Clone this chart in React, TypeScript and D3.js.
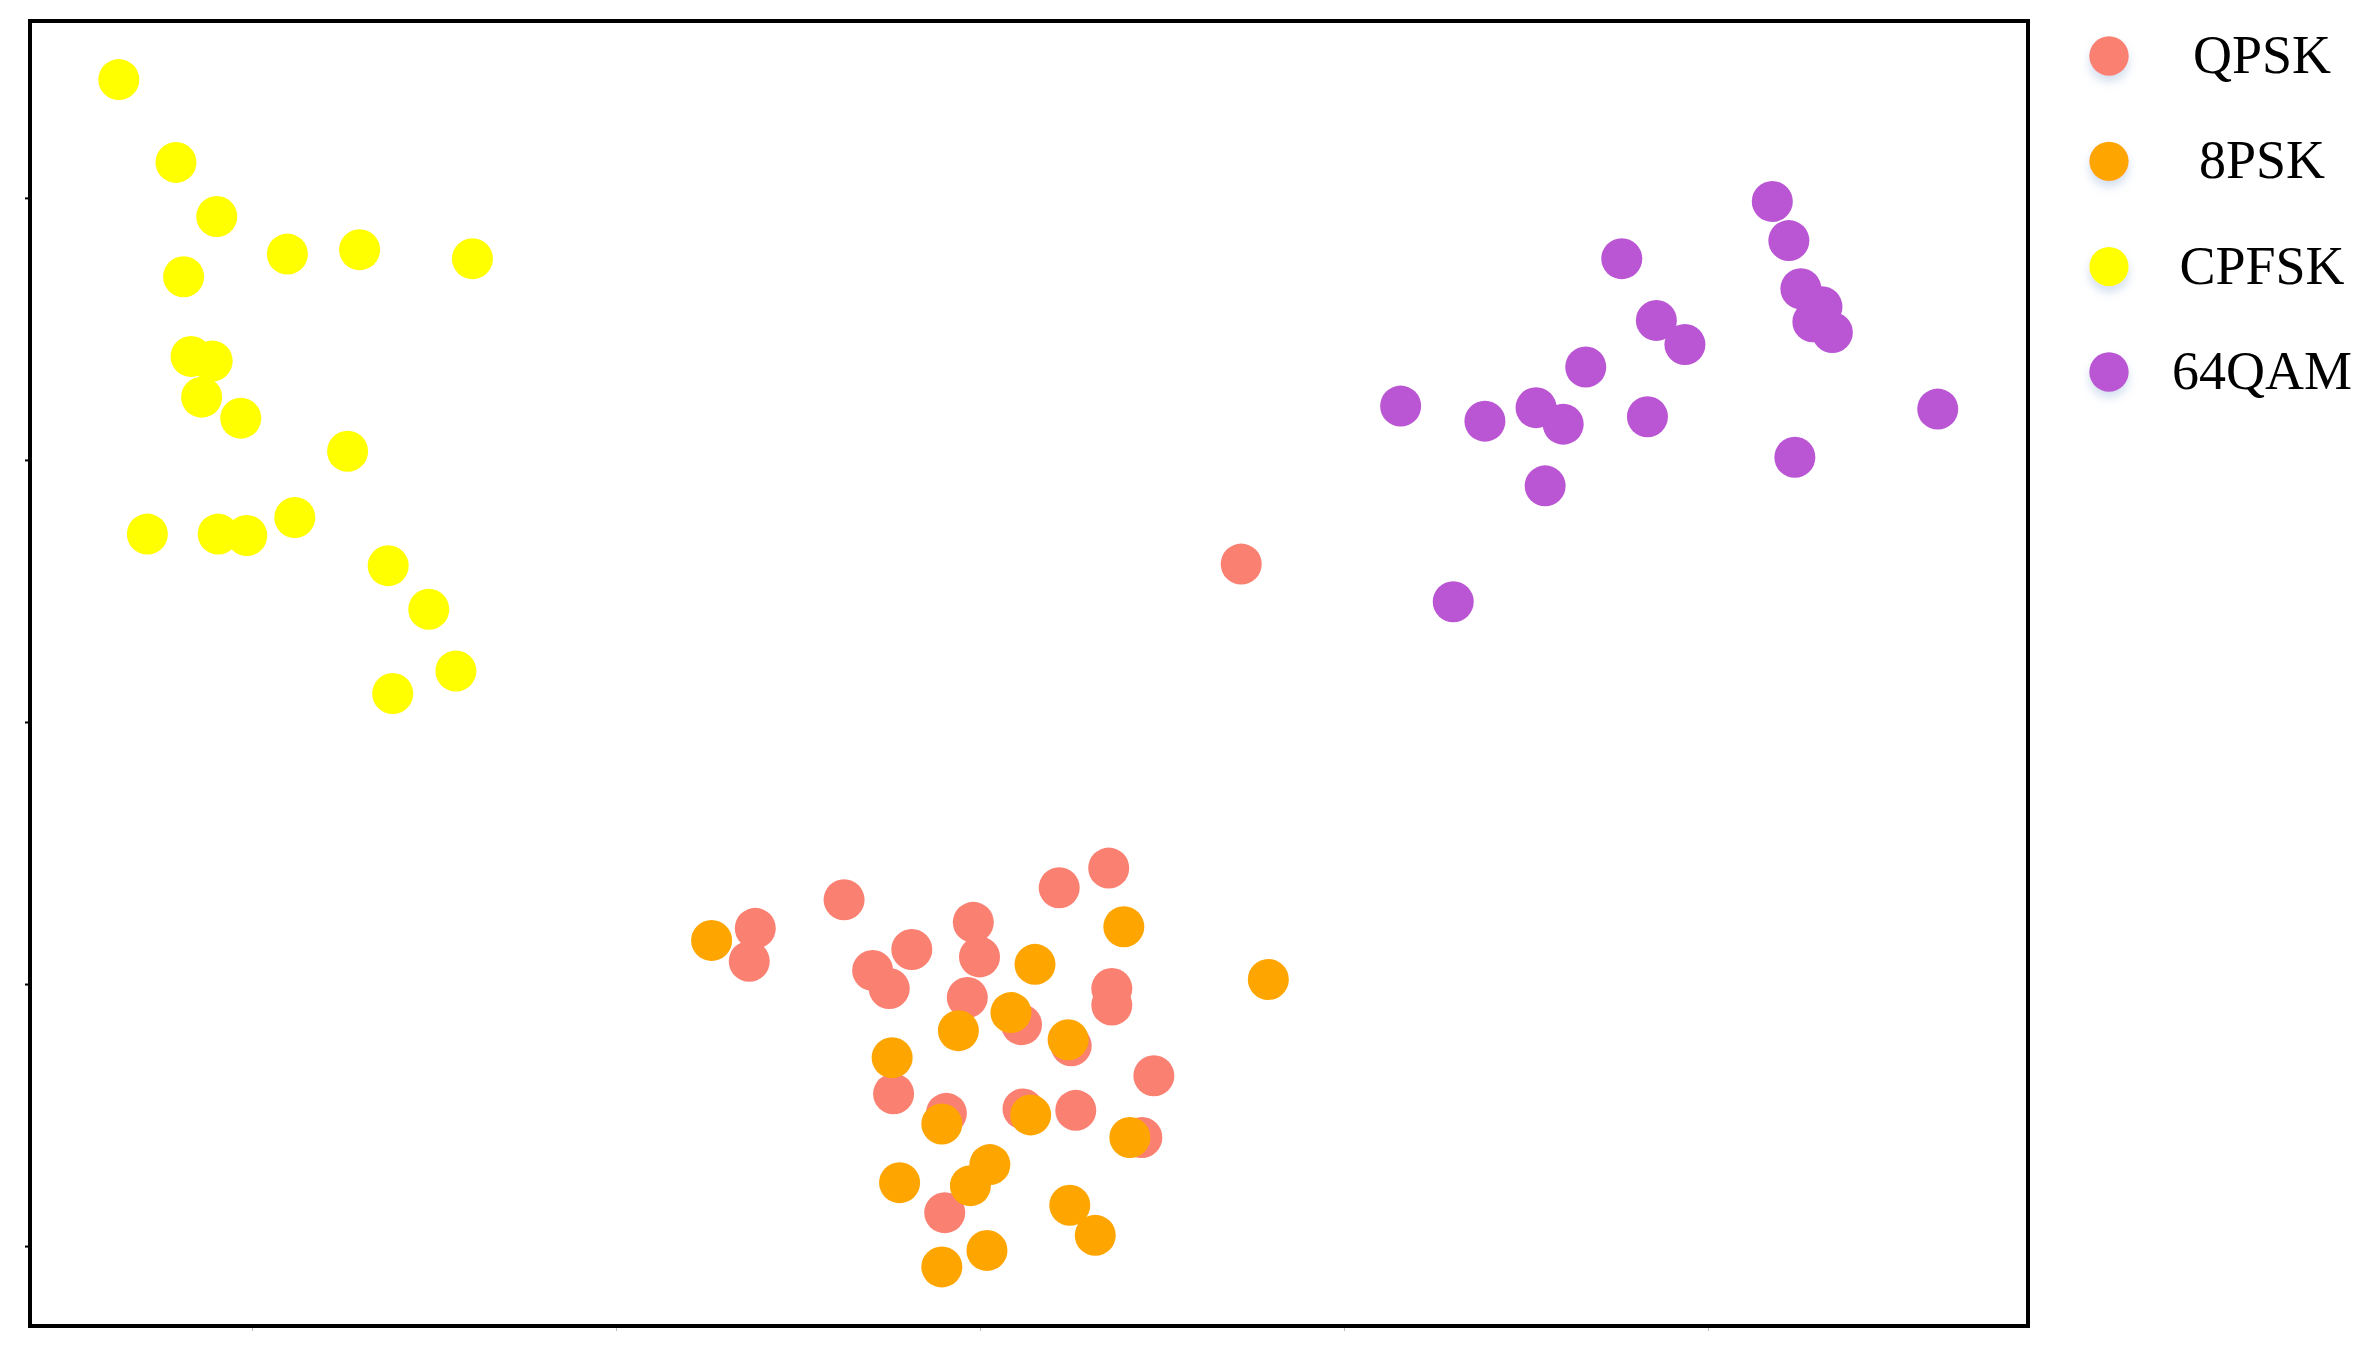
import React, { useEffect, useRef } from "react";
import * as d3 from "d3";

const categories = ["QPSK", "8PSK", "CPFSK", "64QAM"];
const colors = ["#FA8072", "#FFA500", "#FFFF00", "#BA55D3"];

const qpsk: [number, number][] = [
  [-12.35, -15.75], [-12.68, -18.27], [-7.47, -13.57], [4.35, -12.65], [7.07, -11.15],
  [-0.37, -15.29], [-0.03, -17.93], [-3.75, -17.36], [-5.9, -18.96], [-4.99, -20.34],
  [-0.7, -21.03], [2.28, -23.1], [5.01, -24.71], [7.24, -20.34], [7.24, -21.61],
  [9.55, -27.0], [-4.75, -28.38], [-1.85, -29.87], [2.36, -29.53], [5.26, -29.64],
  [8.89, -31.71], [-1.94, -37.45], [14.35, 12.05],
];
const psk8: [number, number][] = [
  [-14.75, -16.67], [7.9, -15.63], [3.02, -18.5], [15.84, -19.65], [1.7, -22.18],
  [-1.19, -23.56], [4.84, -24.25], [-4.83, -25.62], [-2.1, -30.68], [2.78, -29.99],
  [8.23, -31.71], [0.54, -33.78], [-0.53, -35.39], [-4.42, -35.16], [4.93, -36.88],
  [6.33, -39.18], [0.38, -40.33], [-2.1, -41.59],
];
const cpfsk: [number, number][] = [
  [-47.32, 49.03], [-44.18, 42.71], [-41.94, 38.58], [-38.06, 35.71], [-34.09, 36.05],
  [-27.89, 35.36], [-43.76, 33.98], [-43.35, 27.9], [-42.19, 27.55], [-42.77, 24.79],
  [-40.62, 23.19], [-34.75, 20.66], [-45.75, 14.34], [-41.86, 14.34], [-40.29, 14.23],
  [-37.65, 15.61], [-32.52, 11.93], [-30.29, 8.6], [-28.8, 3.89], [-32.27, 2.17],
];
const qam64: [number, number][] = [
  [43.53, 39.73], [44.44, 36.74], [45.1, 33.06], [46.26, 31.69], [45.76, 30.54],
  [46.83, 29.73], [35.26, 35.36], [37.16, 30.65], [38.73, 28.81], [33.28, 27.09],
  [23.11, 24.11], [27.74, 22.96], [30.55, 23.99], [32.04, 22.73], [36.67, 23.3],
  [52.62, 23.88], [44.77, 20.2], [31.05, 18.02], [26.0, 9.18],
];
const seriesData = [qpsk, psk8, cpfsk, qam64];
const xTicks = [-40, -20, 0, 20, 40];
const yTicks = [-40, -20, 0, 20, 40];

const W = 2359;
const H = 1350;
const plot = { left: 30, top: 21, right: 2028, bottom: 1326 };

export default function App() {
  const ref = useRef<SVGSVGElement>(null);

  useEffect(() => {
    document.body.style.margin = "0";
    const svg = d3.select(ref.current);
    svg.selectAll("*").remove();

    const x = d3.scaleLinear().domain([-52.2, 57.58]).range([plot.left, plot.right]);
    const y = d3.scaleLinear().domain([-46.1, 53.5]).range([plot.bottom, plot.top]);

    const defs = svg.append("defs");
    const f = defs.append("filter").attr("id", "shadow").attr("x", "-50%").attr("y", "-50%").attr("width", "200%").attr("height", "200%");
    f.append("feDropShadow").attr("dx", 0).attr("dy", 6).attr("stdDeviation", 5)
      .attr("flood-color", "#9fb8dc").attr("flood-opacity", 0.45);

    svg.append("rect").attr("width", W).attr("height", H).attr("fill", "#fff");

    // axes ticks (no labels)
    const gx = svg.append("g").attr("transform", `translate(0,${plot.bottom + 2})`)
      .call(d3.axisBottom(x).tickValues(xTicks).tickSize(3).tickFormat(() => ""));
    gx.select(".domain").remove();
    gx.selectAll("line").attr("stroke", "#bbb").attr("stroke-width", 1);
    const gy = svg.append("g").attr("transform", `translate(${plot.left - 2},0)`)
      .call(d3.axisLeft(y).tickValues(yTicks).tickSize(3).tickFormat(() => ""));
    gy.select(".domain").remove();
    gy.selectAll("line").attr("stroke", "#000").attr("stroke-width", 2);

    // points
    seriesData.forEach((pts, i) => {
      svg.append("g").selectAll("circle").data(pts).join("circle")
        .attr("cx", (d) => x(d[0]))
        .attr("cy", (d) => y(d[1]))
        .attr("r", 20.5)
        .attr("fill", colors[i]);
    });

    // frame
    svg.append("rect")
      .attr("x", plot.left).attr("y", plot.top)
      .attr("width", plot.right - plot.left).attr("height", plot.bottom - plot.top)
      .attr("fill", "none").attr("stroke", "#000").attr("stroke-width", 4);

    // legend
    const legendY = d3.scalePoint().domain(categories).range([56, 372]);
    const lg = svg.append("g");
    categories.forEach((c, i) => {
      lg.append("circle").attr("cx", 2109).attr("cy", legendY(c)!).attr("r", 19.7)
        .attr("fill", colors[i]).attr("filter", "url(#shadow)");
      lg.append("text").attr("x", 2262).attr("y", legendY(c)! + 17)
        .attr("text-anchor", "middle")
        .attr("font-family", "'Liberation Serif', 'Times New Roman', serif")
        .attr("font-size", 54).attr("fill", "#000").text(c);
    });
  }, []);

  return (
    <svg ref={ref} width={W} height={H} style={{ position: "absolute", left: 0, top: 0, display: "block" }} />
  );
}
